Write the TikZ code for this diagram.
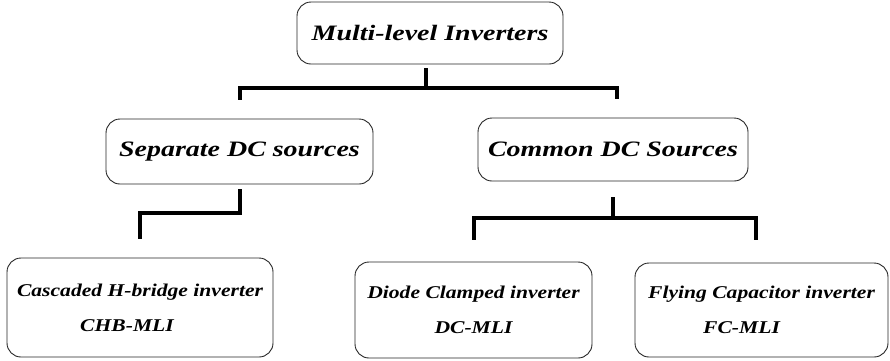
\documentclass[tikz,border=0pt]{standalone}
\usepackage{fontspec}
\setmainfont{Liberation Serif}
\newcommand\wideH[1]{\scalebox{1.27}[1]{#1}}
\newcommand\wideL[1]{\scalebox{1.2}[1]{#1}}
\begin{document}
\begin{tikzpicture}[x=1pt,y=-1pt,
  box/.style={draw=black!85, line width=0.9pt, rounded corners=14pt, fill=white,
    inner sep=0pt, align=center, font=\bfseries\itshape},
  head/.style={box, font=\fontsize{22}{24}\selectfont\bfseries\itshape},
  leaf/.style={box, font=\fontsize{18}{35}\selectfont\bfseries\itshape},
  conn/.style={line width=4pt, line join=miter, line cap=butt}]
\useasboundingbox (0,0) rectangle (890,360);
\node[head, minimum width=266pt, minimum height=62pt] (top) at (430,33) {\wideH{Multi-level Inverters}};
\node[head, minimum width=267pt, minimum height=65pt] (sep) at (239.5,151.5) {\wideH{Separate DC sources}};
\node[head, minimum width=270pt, minimum height=63pt] (com) at (613,149.5) {\wideH{Common DC Sources}};
\node[leaf, minimum width=266pt, minimum height=99pt] (chb) at (140,307.5) {\wideL{Cascaded H-bridge inverter}\\\wideL{CHB-MLI}\hspace*{26pt}};
\node[leaf, minimum width=237pt, minimum height=96pt] (dc) at (473.5,310) {\wideL{Diode Clamped inverter}\\\wideL{DC-MLI}};
\node[leaf, minimum width=253pt, minimum height=94pt] (fc) at (761.5,310) {\wideL{Flying Capacitor inverter}\\\wideL{FC-MLI}\hspace*{40pt}};
\coordinate (b1) at (426,88);
\coordinate (j2) at (140,213);
\coordinate (j3) at (613,218);
\draw[conn] (b1 |- top.south) ++(0,4) -- (b1);
\draw[conn] ([yshift=19pt]sep.north) |- (b1) -| ([xshift=4pt,yshift=19pt]com.north);
\draw[conn] ([yshift=-5pt]sep.south) |- (j2) -- ([yshift=19pt]chb.north);
\draw[conn] ([yshift=-16pt]com.south) -- (j3);
\draw[conn] ([yshift=22pt]dc.north) |- (j3) -| ([xshift=-6pt,yshift=23pt]fc.north);
\end{tikzpicture}
\end{document}
